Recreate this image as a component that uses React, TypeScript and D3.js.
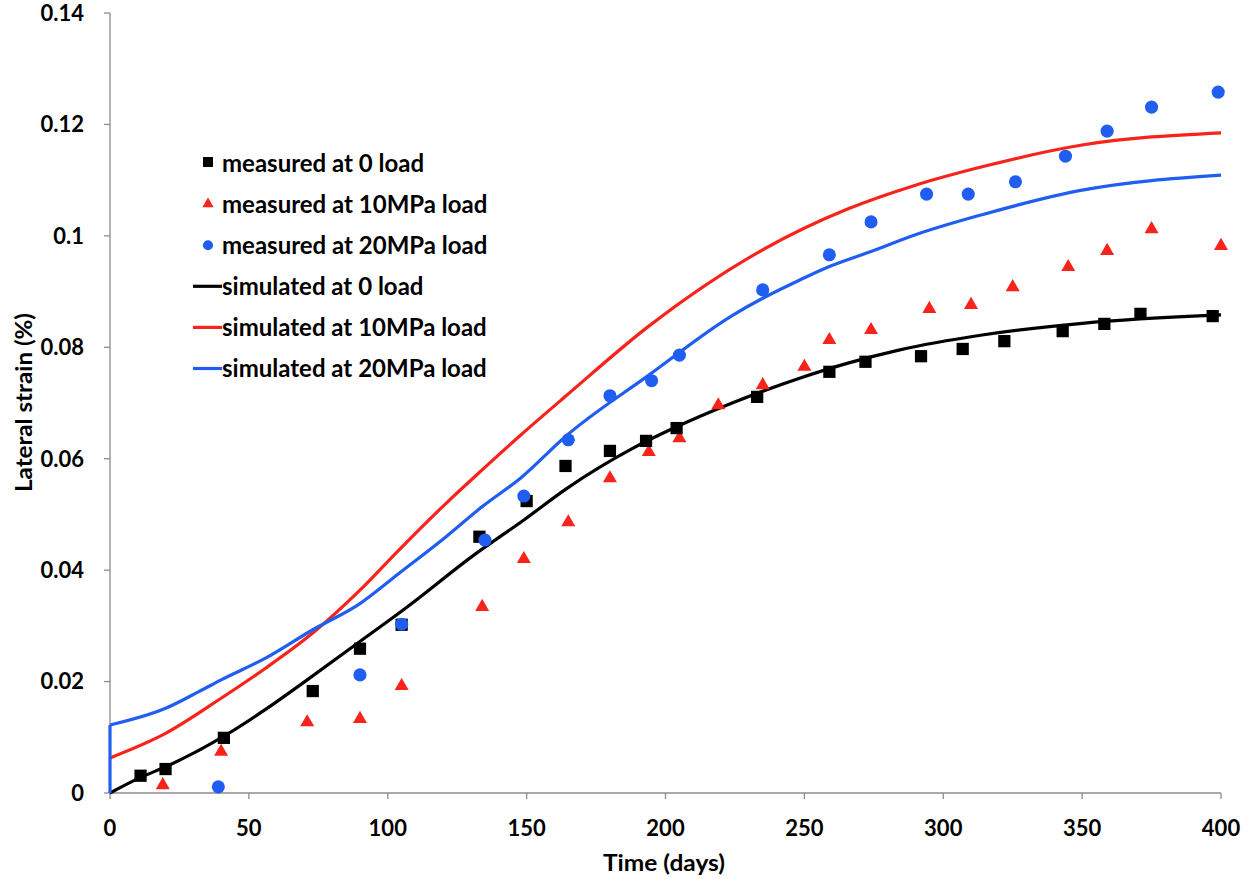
import React from "react";
import * as d3 from "d3";

// ---- Data ----
const xTicks = [0, 50, 100, 150, 200, 250, 300, 350, 400];
const yTicks = [0, 0.02, 0.04, 0.06, 0.08, 0.1, 0.12, 0.14];
const yTickLabels = ["0", "0.02", "0.04", "0.06", "0.08", "0.1", "0.12", "0.14"];

const measured0Days = [11, 20, 41, 73, 90, 105, 133, 150, 164, 180, 193, 204, 233, 259, 272, 292, 307, 322, 343, 358, 371, 397];
const measured0Vals = [0.0031, 0.0043, 0.0099, 0.0183, 0.0259, 0.0302, 0.046, 0.0524, 0.0587, 0.0614, 0.0632, 0.0655, 0.0711, 0.0756, 0.0774, 0.0784, 0.0797, 0.0811, 0.0829, 0.0842, 0.086, 0.0856];

const measured10Days = [19, 40, 71, 90, 105, 134, 149, 165, 180, 194, 205, 219, 235, 250, 259, 274, 295, 310, 325, 345, 359, 375, 400];
const measured10Vals = [0.0014, 0.0074, 0.0127, 0.0133, 0.0192, 0.0334, 0.042, 0.0486, 0.0565, 0.0612, 0.0637, 0.0696, 0.0732, 0.0765, 0.0813, 0.0831, 0.0869, 0.0876, 0.0908, 0.0944, 0.0973, 0.1012, 0.0982];

const measured20Days = [39, 90, 105, 135, 149, 165, 180, 195, 205, 235, 259, 274, 294, 309, 326, 344, 359, 375, 399];
const measured20Vals = [0.0011, 0.0212, 0.0303, 0.0454, 0.0533, 0.0634, 0.0713, 0.074, 0.0786, 0.0903, 0.0966, 0.1025, 0.1075, 0.1075, 0.1097, 0.1143, 0.1188, 0.1231, 0.1258];

const sim0Days = [0, 11, 20, 40, 56, 71, 90, 107, 131, 149, 164, 188, 203, 224, 248, 266, 284, 314, 350, 400];
const sim0Vals = [0, 0.0028, 0.0047, 0.0099, 0.015, 0.0203, 0.0272, 0.0334, 0.0427, 0.049, 0.0545, 0.0618, 0.0655, 0.07, 0.0744, 0.0772, 0.0795, 0.0822, 0.0843, 0.0858];

const sim10Days = [0, 20, 40, 56, 73, 90, 104, 121, 134, 148, 164, 194, 235, 266, 290, 314, 350, 400];
const sim10Vals = [0.0063, 0.0107, 0.017, 0.0224, 0.0287, 0.0364, 0.0436, 0.052, 0.058, 0.0643, 0.0712, 0.0838, 0.0975, 0.1049, 0.1091, 0.1124, 0.1163, 0.1185];

const sim20Days = [0, 0, 20, 32, 40, 56, 73, 90, 104, 121, 134, 148, 164, 194, 224, 235, 248, 259, 274, 290, 314, 350, 400];
const sim20Vals = [0, 0.0122, 0.0152, 0.0182, 0.0203, 0.0242, 0.0293, 0.034, 0.0394, 0.046, 0.0514, 0.0566, 0.064, 0.075, 0.0857, 0.0888, 0.092, 0.0945, 0.0972, 0.1002, 0.1038, 0.1082, 0.1109];

const legendLabels = [
  "measured at 0 load",
  "measured at 10MPa load",
  "measured at 20MPa load",
  "simulated at 0 load",
  "simulated at 10MPa load",
  "simulated at 20MPa load",
];

const BLACK = "#000000";
const RED = "#f8231a";
const BLUE = "#1f5ef0";

const FONT = "Lato, 'Open Sans', sans-serif";

export default function App() {
  const W = 1250, H = 879;
  const x = d3.scaleLinear().domain([0, 400]).range([110, 1221]);
  const y = d3.scaleLinear().domain([0, 0.14]).range([793, 13]);

  const zip = (a: number[], b: number[]) => a.map((d, i) => [d, b[i]] as [number, number]);

  const line = d3
    .line<[number, number]>()
    .x((d) => x(d[0]))
    .y((d) => y(d[1]))
    .curve(d3.curveMonotoneX);

  const lineRaw = d3
    .line<[number, number]>()
    .x((d) => x(d[0]))
    .y((d) => y(d[1]))
    .curve(d3.curveLinear);

  const blueSim = zip(sim20Days, sim20Vals);

  const sq = d3.symbol(d3.symbolSquare, 150)();
  const tri = d3.symbol(d3.symbolTriangle, 85)();
  const circ = d3.symbol(d3.symbolCircle, 135)();
  const sqL = d3.symbol(d3.symbolSquare, 100)();
  const triL = d3.symbol(d3.symbolTriangle, 55)();
  const circL = d3.symbol(d3.symbolCircle, 80)();

  const legendY0 = 163;
  const legendStep = 41.1;
  const legendTextX = 222;

  return (
    <svg width={W} height={H} style={{ position: "absolute", left: 0, top: 0, background: "#fff" }}>
      <rect x={0} y={0} width={W} height={H} fill="#fff" />
      {/* axes */}
      <line x1={x(0)} x2={x(0)} y1={y(0)} y2={y(0.14)} stroke="#8c8c8c" strokeWidth={1.3} />
      <line x1={x(0)} x2={x(400)} y1={y(0)} y2={y(0)} stroke="#8c8c8c" strokeWidth={1.3} />
      {yTicks.map((t, i) => (
        <g key={"yt" + i}>
          <line x1={x(0) - 6} x2={x(0)} y1={y(t)} y2={y(t)} stroke="#8c8c8c" strokeWidth={1.3} />
          <text
            x={84}
            y={y(t)}
            dy="0.36em"
            textAnchor="end"
            fontFamily={FONT}
            fontWeight={700}
            fontSize={22}
            fill="#000"
          >
            {yTickLabels[i]}
          </text>
        </g>
      ))}
      {xTicks.map((t, i) => (
        <g key={"xt" + i}>
          <line x1={x(t)} x2={x(t)} y1={y(0)} y2={y(0) + 6} stroke="#8c8c8c" strokeWidth={1.3} />
          <text
            x={x(t)}
            y={828}
            dy="0.36em"
            textAnchor="middle"
            fontFamily={FONT}
            fontWeight={700}
            fontSize={22}
            fill="#000"
          >
            {t}
          </text>
        </g>
      ))}
      <text
        x={664}
        y={871}
        textAnchor="middle"
        fontFamily={FONT}
        fontWeight={700}
        fontSize={22}
        textLength={122}
        lengthAdjust="spacingAndGlyphs"
        fill="#000"
      >
        Time (days)
      </text>
      <text
        transform={`translate(32,402.5) rotate(-90)`}
        textAnchor="middle"
        fontFamily={FONT}
        fontWeight={700}
        fontSize={23}
        textLength={179}
        lengthAdjust="spacingAndGlyphs"
        fill="#000"
      >
        Lateral strain (%)
      </text>

      {/* simulated lines */}
      <path d={line(zip(sim0Days, sim0Vals)) || ""} fill="none" stroke={BLACK} strokeWidth={3.2} />
      <path d={line(zip(sim10Days, sim10Vals)) || ""} fill="none" stroke={RED} strokeWidth={3.2} />
      <path d={lineRaw(blueSim.slice(0, 2)) || ""} fill="none" stroke={BLUE} strokeWidth={3.2} />
      <path d={line(blueSim.slice(1)) || ""} fill="none" stroke={BLUE} strokeWidth={3.2} />

      {/* measured points */}
      {measured10Days.map((d, i) => (
        <path key={"m10" + i} d={tri || ""} transform={`translate(${x(d)},${y(measured10Vals[i])})`} fill={RED} />
      ))}
      {measured0Days.map((d, i) => (
        <path key={"m0" + i} d={sq || ""} transform={`translate(${x(d)},${y(measured0Vals[i])})`} fill={BLACK} />
      ))}
      {measured20Days.map((d, i) => (
        <path key={"m20" + i} d={circ || ""} transform={`translate(${x(d)},${y(measured20Vals[i])})`} fill={BLUE} />
      ))}

      {/* legend */}
      {legendLabels.map((lab, i) => {
        const cy = legendY0 + i * legendStep;
        let marker: React.ReactNode = null;
        if (i === 0) marker = <path d={sqL || ""} transform={`translate(208,${cy - 1})`} fill={BLACK} />;
        if (i === 1) marker = <path d={triL || ""} transform={`translate(208,${cy})`} fill={RED} />;
        if (i === 2) marker = <path d={circL || ""} transform={`translate(208,${cy})`} fill={BLUE} />;
        if (i >= 3) {
          const col = [BLACK, RED, BLUE][i - 3];
          marker = <line x1={193} x2={222} y1={cy} y2={cy} stroke={col} strokeWidth={3.2} />;
        }
        return (
          <g key={"lg" + i}>
            {marker}
            <text
              x={legendTextX}
              y={cy}
              dy="0.36em"
              fontFamily={FONT}
              fontWeight={700}
              fontSize={24}
              fill="#000"
            >
              {lab}
            </text>
          </g>
        );
      })}
    </svg>
  );
}
